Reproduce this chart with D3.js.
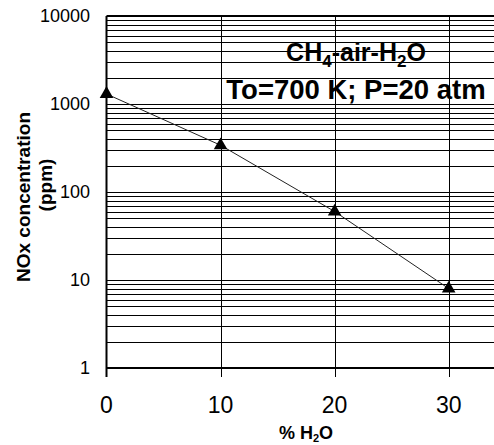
<!DOCTYPE html>
<html><head><meta charset="utf-8">
<script src="https://cdn.jsdelivr.net/npm/d3@7"></script>
<style>body{margin:0;background:#fff}svg{display:block}</style>
</head><body>
<svg id="c" width="494" height="445"></svg>
<script>
const h2oPercent = [0, 10, 20, 30];
const noxPpm = [1300, 340, 60, 8];
const xTicks = [0, 10, 20, 30];
const yTicks = [1, 10, 100, 1000, 10000];
const titleLines = ["CH4-air-H2O", "To=700 K; P=20 atm"];

(function () {
const svg = d3.select("#c");
const pL = 106.5, pT = 16, pB = 368, pR = 500;
const x = d3.scaleLinear().domain([0, 30]).range([pL, 448.7]);
const y = d3.scaleLog().domain([1, 10000]).range([pB, pT]);
const F = "'Liberation Sans', Arial, sans-serif";

// minor + major horizontal grid
const gridVals = [];
for (let d = 1; d < 10000; d *= 10) for (let k = 1; k <= 9; k++) gridVals.push(d * k);
gridVals.push(10000);
svg.append("g").selectAll("line").data(gridVals).join("line")
  .attr("x1", pL).attr("x2", pR)
  .attr("y1", d => Math.round(y(d)) + 0.5).attr("y2", d => Math.round(y(d)) + 0.5)
  .attr("stroke", "#000").attr("stroke-width", 1);

// vertical grid + ticks below
svg.append("g").selectAll("line").data(xTicks.slice(1)).join("line")
  .attr("x1", d => Math.round(x(d)) + 0.5).attr("x2", d => Math.round(x(d)) + 0.5)
  .attr("y1", pT).attr("y2", pB + 9)
  .attr("stroke", "#000").attr("stroke-width", 1);

// axes
svg.append("line").attr("x1", pL).attr("x2", pL).attr("y1", pT).attr("y2", pB + 9)
  .attr("stroke", "#000").attr("stroke-width", 2);
svg.append("line").attr("x1", pL).attr("x2", pR).attr("y1", pB).attr("y2", pB)
  .attr("stroke", "#000").attr("stroke-width", 2);
svg.append("line").attr("x1", pL).attr("x2", pR).attr("y1", pT).attr("y2", pT)
  .attr("stroke", "#000").attr("stroke-width", 2);

// y tick labels
svg.append("g").selectAll("text").data(yTicks).join("text")
  .attr("x", 90).attr("y", d => y(d)).attr("dy", "0.36em")
  .attr("text-anchor", "end").attr("font-family", F).attr("font-size", 18)
  .text(d => d);

// x tick labels
svg.append("g").selectAll("text").data(xTicks).join("text")
  .attr("x", d => x(d)).attr("y", 413)
  .attr("text-anchor", "middle").attr("font-family", F).attr("font-size", 23)
  .text(d => d);

// data line
const line = d3.line().x((d, i) => x(h2oPercent[i])).y(d => y(d));
svg.append("path").datum(noxPpm).attr("d", line)
  .attr("fill", "none").attr("stroke", "#222").attr("stroke-width", 1);

// markers
svg.append("g").selectAll("path").data(noxPpm).join("path")
  .attr("d", d3.symbol().type(d3.symbolTriangle).size(80))
  .attr("transform", (d, i) => `translate(${x(h2oPercent[i])},${y(d)})`)
  .attr("fill", "#000");

// title line 1 with subscripts
const t1 = svg.append("text").attr("x", 356).attr("y", 61).attr("text-anchor", "middle")
  .attr("font-family", F).attr("font-weight", "bold").attr("font-size", 25);
t1.append("tspan").text("CH");
t1.append("tspan").attr("font-size", 17).attr("dy", 6).text("4");
t1.append("tspan").attr("dy", -6).text("-air-H");
t1.append("tspan").attr("font-size", 17).attr("dy", 6).text("2");
t1.append("tspan").attr("dy", -6).text("O");

svg.append("text").attr("x", 356).attr("y", 99).attr("text-anchor", "middle")
  .attr("font-family", F).attr("font-weight", "bold").attr("font-size", 27.5)
  .text(titleLines[1]);

// x axis title
const xt = svg.append("text").attr("x", 306).attr("y", 439).attr("text-anchor", "middle")
  .attr("font-family", F).attr("font-weight", "bold").attr("font-size", 18);
xt.append("tspan").text("% H");
xt.append("tspan").attr("font-size", 11).attr("dy", 3).text("2");
xt.append("tspan").attr("dy", -3).text("O");

// y axis title
svg.append("text").attr("transform", "translate(30,197) rotate(-90)")
  .attr("text-anchor", "middle").attr("font-family", F).attr("font-weight", "bold").attr("font-size", 19)
  .text("NOx concentration");
svg.append("text").attr("transform", "translate(52,185) rotate(-90)")
  .attr("text-anchor", "middle").attr("font-family", F).attr("font-weight", "bold").attr("font-size", 19)
  .text("(ppm)");
})();
</script>
</body></html>
